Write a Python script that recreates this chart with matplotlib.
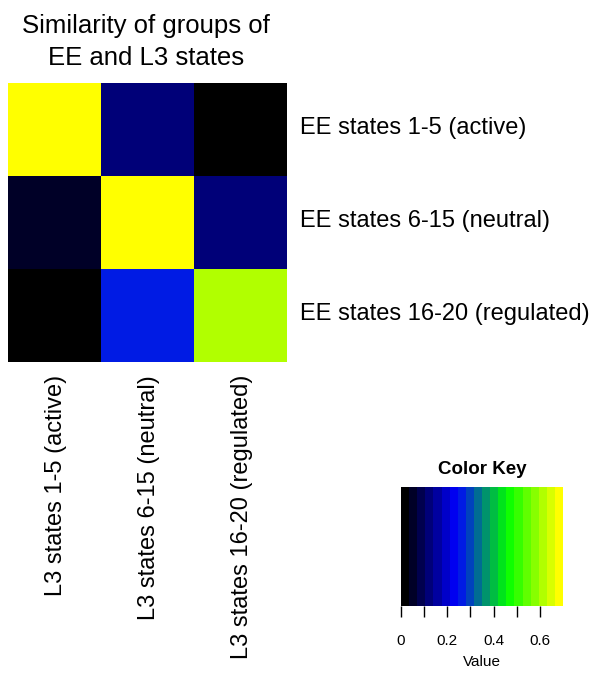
import numpy as np
import matplotlib
matplotlib.use("Agg")
import matplotlib.pyplot as plt
from matplotlib.colors import ListedColormap, BoundaryNorm, LinearSegmentedColormap

plt.rcParams['font.family'] = ['Liberation Sans', 'DejaVu Sans']

row_labels = ["EE states 1-5 (active)", "EE states 6-15 (neutral)", "EE states 16-20 (regulated)"]
col_labels = ["L3 states 1-5 (active)", "L3 states 6-15 (neutral)", "L3 states 16-20 (regulated)"]
# similarity values, rows top to bottom
values = [
    [0.69, 0.12, 0.01],
    [0.05, 0.69, 0.12],
    [0.01, 0.26, 0.62],
]
key_min, key_max, n_bins = 0.0, 0.7, 20
key_ticks = [0, 0.1, 0.2, 0.3, 0.4, 0.5, 0.6]
key_ticklabels = ["0", "", "0.2", "", "0.4", "", "0.6"]

W, H = 605, 675
fig = plt.figure(figsize=(W / 100, H / 100), dpi=100)

def px_axes(x0, y0, x1, y1):
    return fig.add_axes([x0 / W, 1 - y1 / H, (x1 - x0) / W, (y1 - y0) / H])

ramp = LinearSegmentedColormap.from_list("bbgy", ["black", "blue", "#00ff00", "yellow"])
colors = [ramp(i / (n_bins - 1)) for i in range(n_bins)]
cmap = ListedColormap(colors)
breaks = np.linspace(key_min, key_max, n_bins + 1)
norm = BoundaryNorm(breaks, n_bins)

# main heatmap
ax = px_axes(8, 83, 287, 362)
data = np.array(values)
ax.pcolormesh(np.arange(4), np.arange(4), data[::-1], cmap=cmap, norm=norm)
ax.set_xlim(0, 3)
ax.set_ylim(0, 3)
ax.set_xticks([])
ax.set_yticks([])
for s in ax.spines.values():
    s.set_visible(False)
for i, lab in enumerate(row_labels):
    ax.text(3.14, 2.52 - i, lab, ha="left", va="center", fontsize=17, clip_on=False)
for j, lab in enumerate(col_labels):
    ax.text(j + 0.52, -0.14, lab, rotation=90, ha="center", va="top", fontsize=17, clip_on=False)

fig.text(146 / W, 1 - 33 / H, "Similarity of groups of", ha="center", va="baseline", fontsize=18.5)
fig.text(146 / W, 1 - 65 / H, "EE and L3 states", ha="center", va="baseline", fontsize=18.5)

# color key
kax = px_axes(401, 487, 563, 606)
kx = np.array(breaks)
kax.pcolormesh(kx, [0, 1], np.array([(kx[:-1] + kx[1:]) / 2]), cmap=cmap, norm=norm)
kax.set_xlim(key_min, key_max)
kax.set_ylim(0, 1)
kax.set_yticks([])
kax.set_xticks(key_ticks)
kax.set_xticklabels(key_ticklabels, fontsize=11)
kax.tick_params(axis="x", length=8, width=1, pad=12)
for s in kax.spines.values():
    s.set_visible(False)
kax.set_xlabel("Value", fontsize=11, labelpad=5)
kax.set_title("Color Key", fontsize=13.5, fontweight="bold", pad=9)

fig.savefig("out.png", dpi=100)
